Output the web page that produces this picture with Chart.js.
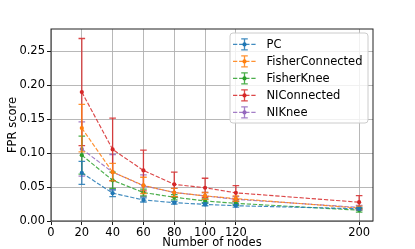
<!DOCTYPE html>
<html>
<head>
<meta charset="utf-8">
<script src="https://cdn.jsdelivr.net/npm/chart.js@4/dist/chart.umd.min.js"></script>
<style>
html,body{margin:0;padding:0;background:#fff;}
canvas{display:block;}
</style>
</head>
<body>
<canvas id="c" width="415" height="249"></canvas>
<script>
const nodes = [20, 40, 60, 80, 100, 120, 200];
const xTickValues = [0, 20, 40, 60, 80, 100, 120, 200];
const yTickValues = [0, 0.05, 0.10, 0.15, 0.20, 0.25];

const seriesNames = ["PC", "FisherConnected", "FisherKnee", "NIConnected", "NIKnee"];

const pcMean = [0.071, 0.041, 0.031, 0.027, 0.0245, 0.0225, 0.018];
const pcErr  = [0.017, 0.005, 0.003, 0.002, 0.002, 0.002, 0.002];

const fisherConnectedMean = [0.137, 0.072, 0.0525, 0.042, 0.037, 0.033, 0.019];
const fisherConnectedErr  = [0.035, 0.013, 0.012, 0.006, 0.005, 0.004, 0.003];

const fisherKneeMean = [0.097, 0.060, 0.042, 0.035, 0.0295, 0.026, 0.016];
const fisherKneeErr  = [0.028, 0.012, 0.005, 0.004, 0.003, 0.003, 0.003];

const niConnectedMean = [0.190, 0.1055, 0.0745, 0.054, 0.049, 0.0415, 0.0277];
const niConnectedErr  = [0.079, 0.046, 0.030, 0.018, 0.014, 0.0105, 0.0096];

const niKneeMean = [0.106, 0.072, 0.052, 0.042, 0.037, 0.032, 0.020];
const niKneeErr  = [0.040, 0.026, 0.016, 0.006, 0.005, 0.004, 0.003];

const colors = ["#1f77b4", "#ff7f0e", "#2ca02c", "#d62728", "#9467bd"];
const means = [pcMean, fisherConnectedMean, fisherKneeMean, niConnectedMean, niKneeMean];
const errs = [pcErr, fisherConnectedErr, fisherKneeErr, niConnectedErr, niKneeErr];

const FONT = '"DejaVu Sans", sans-serif';
const DASH = [4.3, 1.8];

function rgba(hex, a){
  const n = parseInt(hex.slice(1), 16);
  return `rgba(${(n>>16)&255},${(n>>8)&255},${n&255},${a})`;
}

const datasets = seriesNames.map((name, k) => ({
  label: name,
  data: nodes.map((x, i) => ({x: x, y: means[k][i]})),
  errors: errs[k],
  borderColor: rgba(colors[k], 0.85),
  backgroundColor: colors[k],
  pointBackgroundColor: colors[k],
  pointBorderColor: colors[k],
  borderWidth: 1.15,
  borderDash: DASH,
  pointRadius: 2.1,
  pointBorderWidth: 0,
  fill: false,
  tension: 0
}));

const errorBarPlugin = {
  id: 'errorBars',
  beforeDatasetDraw(chart, args) {
    const ds = chart.data.datasets[args.index];
    const xs = chart.scales.x, ys = chart.scales.y;
    const ctx = chart.ctx;
    ctx.save();
    ctx.strokeStyle = rgba(colors[args.index], 0.85);
    ctx.lineWidth = 1.3;
    ctx.setLineDash([]);
    ds.data.forEach((p, i) => {
      const e = ds.errors[i];
      const px = xs.getPixelForValue(p.x);
      const y1 = ys.getPixelForValue(p.y - e);
      const y2 = ys.getPixelForValue(p.y + e);
      ctx.beginPath();
      ctx.moveTo(px, y1); ctx.lineTo(px, y2);
      ctx.moveTo(px - 3.3, y1); ctx.lineTo(px + 3.3, y1);
      ctx.moveTo(px - 3.3, y2); ctx.lineTo(px + 3.3, y2);
      ctx.stroke();
    });
    ctx.restore();
  }
};

const framePlugin = {
  id: 'frame',
  afterDatasetsDraw(chart) {
    const a = chart.chartArea, ctx = chart.ctx;
    ctx.save();
    ctx.strokeStyle = '#222';
    ctx.lineWidth = 1;
    ctx.setLineDash([]);
    ctx.strokeRect(a.left, a.top, a.right - a.left, a.bottom - a.top);
    ctx.restore();
  }
};

const legendPlugin = {
  id: 'mplLegend',
  afterDraw(chart) {
    const ctx = chart.ctx;
    const bx = 230, by = 33, bw = 138, bh = 90, r = 3;
    ctx.save();
    ctx.beginPath();
    ctx.moveTo(bx + r, by);
    ctx.arcTo(bx + bw, by, bx + bw, by + bh, r);
    ctx.arcTo(bx + bw, by + bh, bx, by + bh, r);
    ctx.arcTo(bx, by + bh, bx, by, r);
    ctx.arcTo(bx, by, bx + bw, by, r);
    ctx.closePath();
    ctx.fillStyle = 'rgba(255,255,255,0.8)';
    ctx.fill();
    ctx.strokeStyle = '#cccccc';
    ctx.lineWidth = 1;
    ctx.stroke();
    const rowY0 = 44.4, rowStep = 17;
    chart.data.datasets.forEach((ds, k) => {
      const cy = rowY0 + k * rowStep;
      const x0 = 233, x1 = 256, xm = (x0 + x1) / 2;
      ctx.strokeStyle = rgba(colors[k], 0.85);
      ctx.lineWidth = 1.15;
      ctx.setLineDash(DASH);
      ctx.beginPath(); ctx.moveTo(x0, cy); ctx.lineTo(x1, cy); ctx.stroke();
      ctx.setLineDash([]);
      ctx.lineWidth = 1.3;
      ctx.beginPath();
      ctx.moveTo(xm, cy - 5.5); ctx.lineTo(xm, cy + 5.5);
      ctx.moveTo(xm - 3.3, cy - 5.5); ctx.lineTo(xm + 3.3, cy - 5.5);
      ctx.moveTo(xm - 3.3, cy + 5.5); ctx.lineTo(xm + 3.3, cy + 5.5);
      ctx.stroke();
      ctx.fillStyle = colors[k];
      ctx.beginPath(); ctx.arc(xm, cy, 2.1, 0, Math.PI * 2); ctx.fill();
      ctx.fillStyle = '#000';
      ctx.font = '11.5px ' + FONT;
      ctx.textBaseline = 'middle';
      ctx.textAlign = 'left';
      ctx.fillText(ds.label, 266.5, cy + 0.5);
    });
    ctx.restore();
  }
};

new Chart(document.getElementById('c'), {
  type: 'line',
  data: { datasets: datasets },
  plugins: [errorBarPlugin, framePlugin, legendPlugin],
  options: {
    responsive: false,
    devicePixelRatio: 1,
    animation: false,
    layout: { padding: { top: 29, right: 42, left: 0, bottom: 0 } },
    plugins: { legend: { display: false }, tooltip: { enabled: false } },
    scales: {
      x: {
        type: 'linear',
        min: 0, max: 209,
        afterBuildTicks: s => { s.ticks = xTickValues.map(v => ({value: v})); },
        afterFit: s => { s.height = 28; },
        grid: { color: '#b0b0b0', lineWidth: 0.9, tickLength: 4, tickColor: '#000', tickWidth: 0.9 },
        border: { display: false },
        ticks: { font: { family: FONT, size: 11.5 }, color: '#000', padding: 1, maxRotation: 0, autoSkip: false },
        title: { display: true, text: 'Number of nodes', color: '#000', font: { family: FONT, size: 11.5, lineHeight: 1 }, padding: 0 }
      },
      y: {
        type: 'linear',
        min: 0, max: 0.283,
        afterBuildTicks: s => { s.ticks = yTickValues.map(v => ({value: v})); },
        afterFit: s => { s.width = 51; },
        grid: { color: '#b0b0b0', lineWidth: 0.9, tickLength: 4, tickColor: '#000', tickWidth: 0.9 },
        border: { display: false },
        ticks: { font: { family: FONT, size: 11.5 }, color: '#000', padding: 2, callback: v => v.toFixed(2) },
        title: { display: true, text: 'FPR score', color: '#000', font: { family: FONT, size: 11.5, lineHeight: 1 }, padding: { top: 7.5, bottom: 0 } }
      }
    }
  }
});
</script>
</body>
</html>
